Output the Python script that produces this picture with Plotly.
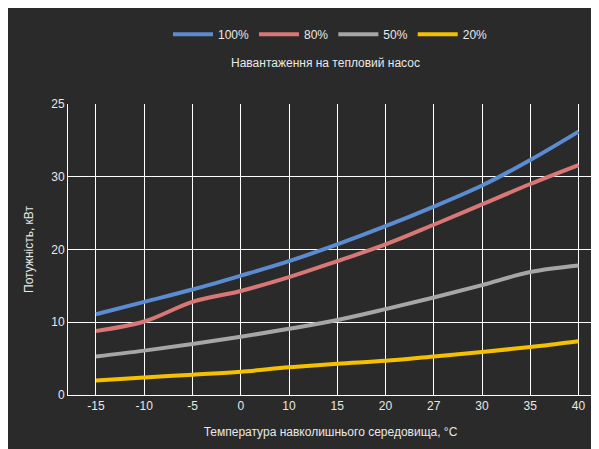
import plotly.graph_objects as go

x_labels = ["-15","-10","-5","0","10","15","20","27","30","35","40"]
s100 = [11.1,12.8,14.5,16.4,18.4,20.7,23.2,25.9,28.8,32.3,36.2]
s80 = [8.8,10.1,12.8,14.3,16.2,18.4,20.7,23.4,26.2,29.0,31.6]
s50 = [5.3,6.1,7.0,8.0,9.1,10.3,11.8,13.4,15.1,16.9,17.8]
s20 = [2.0,2.4,2.8,3.2,3.8,4.3,4.7,5.3,5.9,6.6,7.4]
y_tickvals = [0,10,20,30,40]
y_ticktext = ["0","10","20","30","25"]

series = [("100%", s100, "#5b8bd0"), ("80%", s80, "#d97777"),
          ("50%", s50, "#a6a6a6"), ("20%", s20, "#f5c000")]

fig = go.Figure()
for name, vals, col in series:
    fig.add_trace(go.Scatter(x=list(range(len(x_labels))), y=vals, name=name,
                             mode="lines", line=dict(color=col, width=4, shape="spline")))

fig.update_layout(
    width=599, height=449, paper_bgcolor="#2b2a2a", plot_bgcolor="#2b2a2a",
    margin=dict(l=60, r=14, t=84, b=62),
    font=dict(family="Liberation Sans, Arial", size=12, color="#e8e8e8"),
    title=dict(text="Навантаження на тепловий насос", x=0.53, xanchor="center",
               y=0.878, yanchor="middle", font=dict(size=12)),
    legend=dict(orientation="h", x=0.5, xanchor="center", y=1.24, yanchor="middle",
                font=dict(size=12), itemwidth=40),
    xaxis=dict(tickvals=list(range(len(x_labels))), ticktext=x_labels,
               range=[-0.58, 10.3], showgrid=True, gridcolor="#ffffff", gridwidth=1,
               zeroline=False, showline=True, linecolor="#ffffff", ticks="",
               title=dict(text="Температура навколишнього середовища, °C", font=dict(size=12))),
    yaxis=dict(tickvals=y_tickvals, ticktext=y_ticktext, range=[0, 40],
               showgrid=True, gridcolor="#ffffff", gridwidth=1, zeroline=False,
               showline=True, linecolor="#ffffff", ticks="",
               title=dict(text="Потужність, кВт", font=dict(size=12))),
)
fig.write_html("out.html")
